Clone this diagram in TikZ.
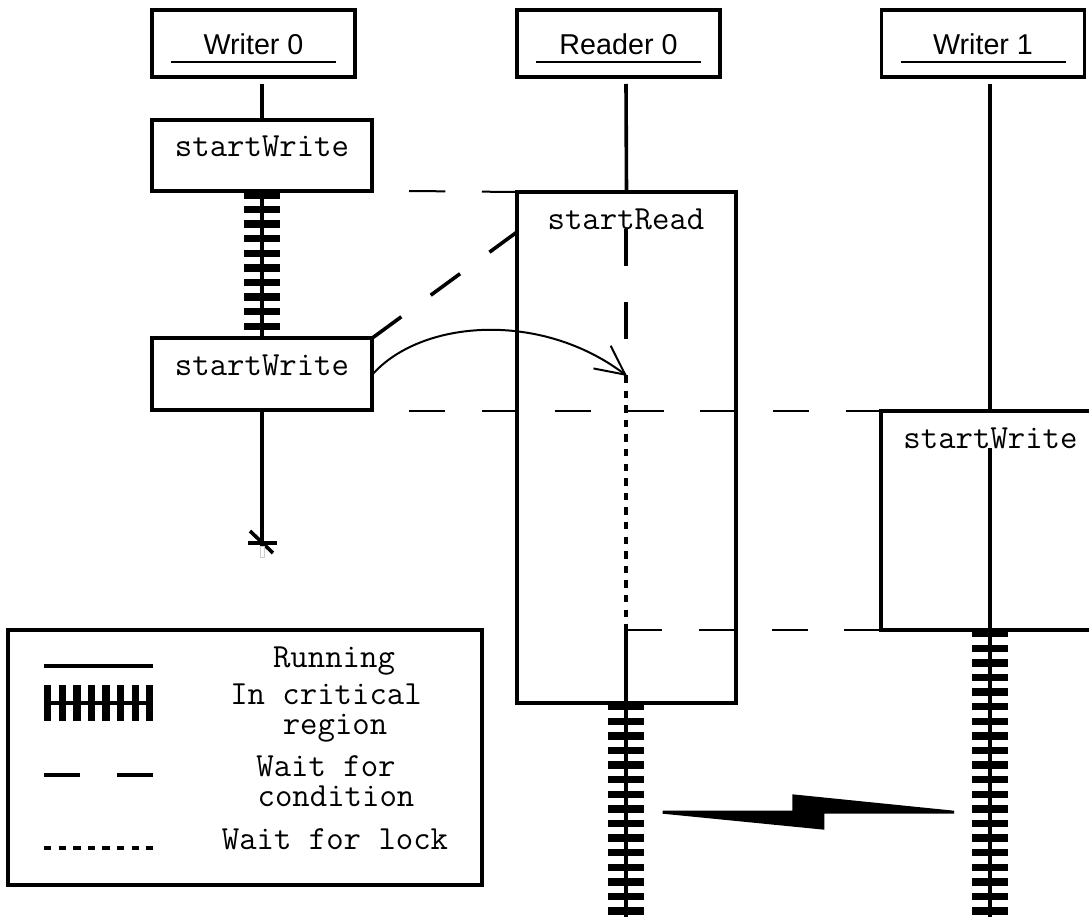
\documentclass[tikz,border=0pt]{standalone}
\usepackage{fontspec}
\setmainfont{Liberation Sans}
\usetikzlibrary{arrows.meta}
\tikzset{
    heavy/.style={line width=3.6pt},
    headbox/.style={draw, heavy, inner sep=0pt, outer sep=0pt, minimum width=203pt, minimum height=67pt, text height=23pt, text depth=0pt, font=\fontsize{28.7}{28.7}\selectfont},
    callbox/.style={draw, heavy, inner sep=0pt, outer sep=0pt, minimum width=220pt, minimum height=71.5pt},
    codetext/.style={inner sep=0pt, anchor=base, font=\ttfamily\fontsize{33.8}{33.8}\selectfont},
    running/.style={heavy},
    critical/.style={line width=36pt, dash pattern=on 7.3pt off 7.3pt},
    waitcond/.style={heavy, dash pattern=on 36.4pt off 36.4pt},
    waitlock/.style={heavy, dash pattern=on 7.3pt off 7.3pt},
    nexttime/.style={line width=2pt, dash pattern=on 36.4pt off 36.4pt},
}
\begin{document}
\begin{tikzpicture}[x=1pt, y=-1pt]
    \useasboundingbox (0,0) rectangle (1089,917);
    % headers and lifelines
    \foreach \name/\x/\lx/\txt in {wa/253.5/262/Writer 0, ra/618.5/626/Reader 0, wb/983/990/Writer 1}{%
        \node[headbox] (\name-head) at (\x,43.5) {\txt};
        \draw[line width=2pt] ({\x-82.5},62) -- ({\x+82.5},62);
        \coordinate (\name-top) at (\lx,84);
    }
    \node[callbox] (wa-first) at (262,155.5) {};
    \node[callbox] (wa-second) at (262,374) {};
    \node[draw, heavy, inner sep=0pt, outer sep=0pt, minimum width=219pt, minimum height=511pt] (ra-box) at (626.5,447.5) {};
    \draw[heavy] (1089,411) -- (881,411) -- (881,630) -- (1089,630);
    \node[codetext] (wa-first-text) at (262,157) {startWrite};
    \node[codetext] (wa-second-text) at (262,375) {startWrite};
    \node[codetext] (ra-text) at (626,230) {startRead};
    \node[codetext] (wb-text) at (990.5,448) {startWrite};
    % writer 0
    \coordinate (wa-end) at (262,546);
    \draw[running] (wa-top) -- (wa-first.north);
    \draw[running] (wa-first.south) -- (wa-second.north);
    \draw[critical] (wa-first.south) -- (wa-second.north);
    \draw[running] (wa-second.south) -- (wa-end);
    \draw[heavy] (248,543) -- (277,543);
    \draw[heavy] (250,531) -- (273,553);
    \draw[gray!40, line width=0.7pt] (260.5,546) rectangle (264.5,557);
    % reader 0
    \coordinate (ra-dash) at (626,229.5);
    \coordinate (ra-lock) at (626,376);
    \coordinate (ra-run) at (626,630);
    \coordinate (ra-bottom) at (626,703);
    \coordinate (ra-out) at (626,917);
    \draw[running] (ra-top) -- (ra-box.north);
    \draw[waitcond] (ra-dash) -- (ra-lock);
    \draw[waitlock] (ra-lock) -- (ra-run);
    \draw[running] (ra-run) -- (ra-bottom);
    \draw[running] (ra-bottom) -- (ra-out);
    \draw[critical] (ra-bottom) -- (ra-out);
    % writer 1
    \coordinate (wb-box) at (990,411);
    \coordinate (wb-text-end) at (990,448);
    \coordinate (wb-crit) at (990,630);
    \coordinate (wb-out) at (990,917);
    \draw[running] (wb-top) -- (wb-box);
    \draw[running] (wb-text-end) -- (wb-crit);
    \draw[running] (wb-crit) -- (wb-out);
    \draw[critical] (wb-crit) -- (wb-out);
    % happens-before
    \coordinate (nexta) at (409,191);
    \coordinate (nextb) at (517,192);
    \coordinate (nextc) at (409,411);
    \coordinate (nextd) at (881,411);
    \coordinate (nexte) at (626,630);
    \coordinate (nextf) at (881,630);
    \coordinate (diag) at (517,232);
    \draw[nexttime] (nexta) -- (nextb);
    \draw[nexttime] (nextc) -- (nextd);
    \draw[nexttime] (nexte) -- (nextf);
    \draw[waitcond] (wa-second.north east) -- (diag);
    \coordinate (wake) at (627,376);
    \coordinate (wakestart) at (372,375);
    \draw[line width=2pt, -{Straight Barb[length=29pt, width=28.5pt]}] (wakestart) .. controls (420,320) and (540,310) .. (wake);
    % preemption bolt
    \fill (662.7,810.7) -- (792.3,810.7) -- (792.3,794.3) -- (954,810.7) -- (954,813.7) -- (824.3,813.7) -- (824.3,829.7) -- (662.7,813.7) -- cycle;
    % legend
    \node[draw, heavy, inner sep=0pt, outer sep=0pt, minimum width=474pt, minimum height=255pt] (legend) at (245,757.5) {};
    \draw[running] (44,666) -- (153,666);
    \draw[critical] (44,703) -- (153,703);
    \draw[running] (44,703) -- (153,703);
    \draw[waitcond] (44,775) -- (153,775);
    \draw[waitlock] (44,848) -- (153,848);
    \node[codetext] (legend-run) at (334,667) {Running};
    \node[codetext] (legend-crita) at (326,704) {In critical};
    \node[codetext] (legend-critb) at (335,734) {region};
    \node[codetext] (legend-conda) at (326,776) {Wait for};
    \node[codetext] (legend-condb) at (336,806) {condition};
    \node[codetext] (legend-lock) at (335,849) {Wait for lock};
\end{tikzpicture}
\end{document}
